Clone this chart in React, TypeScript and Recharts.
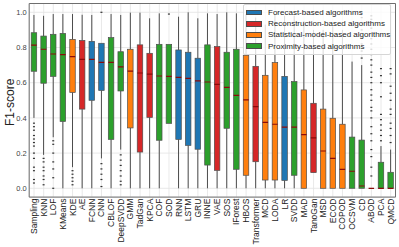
import React from 'react';
import { ComposedChart, Bar, XAxis, YAxis, CartesianGrid, Legend, ReferenceArea } from 'recharts';

const FONT = '"Liberation Sans", Arial, sans-serif';

const categories = [
  'Sampling', 'KNN', 'LOF', 'KMeans', 'KDE', 'AE', 'FCNN', 'CNN', 'CBLOF', 'DeepSVDD',
  'GMM', 'TadGan', 'KPCA', 'COF', 'SOD', 'RNN', 'LSTM', 'GRU', 'INNE', 'VAE',
  'SOS', 'IForest', 'HBOS', 'Transformer', 'MCD', 'LODA', 'LR', 'SVDD', 'MAD', 'TanoGan',
  'MSD', 'ECOD', 'COPOD', 'OCSVM', 'CD', 'ABOD', 'PCA', 'QMCD',
];

// F = forecast, R = reconstruction, S = statistical-model, P = proximity
const groups = [
  'P', 'P', 'P', 'P', 'S', 'R', 'F', 'F', 'P', 'P',
  'S', 'R', 'R', 'P', 'P', 'F', 'F', 'F', 'P', 'R',
  'P', 'P', 'S', 'R', 'S', 'S', 'F', 'P', 'S', 'R',
  'S', 'S', 'S', 'P', 'P', 'P', 'P', 'P',
];

const whiskerLow = [
  0.40, 0.19, 0.29, 0.0, 0.12, 0.0, 0.0, 0.17, 0.0, 0.22,
  0.0, 0.0, 0.0, 0.0, 0.369, 0.0, 0.0, 0.0, 0.0, 0.0,
  0.0, 0.0, 0.0, 0.0, 0.0, 0.0, 0.0, 0.0, 0.0, 0.089,
  0.0, 0.0, 0.0, 0.0, 0.0, 0.0, 0.0, 0.0,
];
const q1 = [
  0.665, 0.597, 0.636, 0.38, 0.545, 0.45, 0.50, 0.556, 0.278, 0.553,
  0.343, 0.206, 0.403, 0.273, 0.369, 0.278, 0.244, 0.222, 0.132, 0.102,
  0.341, 0.108, 0.074, 0.151, 0.047, 0.047, 0.045, 0.074, 0.0, 0.089,
  0.0, 0.0, 0.0, 0.0, 0.0, 0.0, 0.0, 0.0,
];
const median = [
  0.813, 0.79, 0.763, 0.76, 0.748, 0.733, 0.733, 0.716, 0.716, 0.69,
  0.666, 0.655, 0.649, 0.638, 0.636, 0.63, 0.625, 0.61, 0.604, 0.59,
  0.574, 0.528, 0.502, 0.464, 0.375, 0.364, 0.348, 0.348, 0.305, 0.286,
  0.212, 0.17, 0.108, 0.097, 0.013, 0.0, 0.0, 0.0,
];
const q3 = [
  0.884, 0.865, 0.875, 0.88, 0.846, 0.84, 0.835, 0.824, 0.856, 0.776,
  0.79, 0.815, 0.767, 0.818, 0.818, 0.786, 0.773, 0.739, 0.815, 0.805,
  0.773, 0.79, 0.756, 0.693, 0.642, 0.714, 0.636, 0.606, 0.559, 0.483,
  0.45, 0.398, 0.364, 0.291, 0.274, 0.0, 0.148, 0.091,
];
const whiskerHigh = [
  0.985, 0.98, 0.99, 0.99, 0.99, 0.986, 0.985, 0.824, 0.99, 0.985,
  0.998, 0.998, 0.966, 0.994, 0.818, 0.975, 1.0, 0.966, 0.994, 0.99,
  1.0, 0.994, 0.99, 0.97, 0.93, 0.99, 0.98, 0.98, 0.95, 0.9,
  0.9, 0.92, 0.9, 0.72, 0.70, 0.0, 0.24, 0.22,
];
const outliers: number[][] = [
  [0.37, 0.35, 0.33, 0.3, 0.28, 0.26, 0.24, 0.2, 0.17, 0.12, 0.1, 0.05, 0.03],
  [0.17, 0.15, 0.12, 0.1, 0.07, 0.05, 0.02],
  [0.27, 0.25, 0.2, 0.15, 0.11, 0.06, 0.0],
  [],
  [0.1, 0.08, 0.06, 0.04, 0.02],
  [], [],
  [1.0, 0.14, 0.11, 0.08, 0.05, 0.01],
  [],
  [0.19, 0.16, 0.13, 0.1, 0.07, 0.04, 0.02],
  [], [], [], [],
  [0.99],
  [], [], [], [], [], [], [], [], [], [], [], [], [], [], [], [], [], [], [],
  [0.74, 0.78, 0.82, 0.86, 0.9, 0.94, 0.97, 1.0],
  [0.07, 0.12, 0.18, 0.22, 0.27, 0.31, 0.35, 0.4, 0.44, 0.46, 0.5, 0.53, 0.56, 0.6, 0.63,
    0.66, 0.7, 0.73, 0.76, 0.79, 0.82, 0.85, 0.88, 0.91, 0.94, 0.96, 0.98],
  [0.27, 0.3, 0.33, 0.36, 0.39, 0.42, 0.52, 0.6, 0.64, 0.68],
  [0.26, 0.3, 0.34, 0.37, 0.42, 0.45, 0.5, 0.54, 0.58, 0.65, 0.68],
];

const yTicks = [0, 0.2, 0.4, 0.6, 0.8, 1.0];

const groupKeys = ['F', 'R', 'S', 'P'];
const groupLabels = [
  'Forecast-based algorithms',
  'Reconstruction-based algorithms',
  'Statistical-model-based algorithms',
  'Proximity-based algorithms',
];
const groupColors = ['#1f77b4', '#d62728', '#ff7f0e', '#2ca02c'];

const data = categories.map((name, i) => ({ name, group: groups[i], unit: [0, 1] }));

const BoxShape = (props: any) => {
  const { x, y, width, height } = props;
  const i = typeof props.index === 'number' ? props.index : categories.indexOf(props.payload?.name);
  const toY = (v: number) => y + (1 - v) * height;
  const cx = x + width / 2;
  const color = groupColors[groupKeys.indexOf(groups[i])];
  const yq1 = toY(q1[i]);
  const yq3 = toY(q3[i]);
  return (
    <g>
      {whiskerHigh[i] > q3[i] && (
        <line x1={cx} x2={cx} y1={toY(whiskerHigh[i])} y2={yq3} stroke="#4d4d4d" strokeWidth={1} />
      )}
      {whiskerLow[i] < q1[i] && (
        <line x1={cx} x2={cx} y1={yq1} y2={toY(whiskerLow[i])} stroke="#4d4d4d" strokeWidth={1} />
      )}
      <rect x={x} y={yq3} width={width} height={Math.max(yq1 - yq3, 0)} fill={color} stroke="#4d4d4d" strokeWidth={0.7} />
      <line x1={x} x2={x + width} y1={toY(median[i])} y2={toY(median[i])} stroke="#8b0a0a" strokeWidth={1.2} />
      {outliers[i].map((v, k) => (
        <rect key={k} x={cx - 1} y={toY(v) - 0.6} width={2} height={1.2} fill="#333" />
      ))}
    </g>
  );
};

const XTick = (props: any) => {
  const { x, y, payload } = props;
  return (
    <text
      x={x}
      y={y}
      transform={`rotate(-90, ${x}, ${y})`}
      textAnchor="end"
      dy="0.35em"
      fontSize={8.5}
      fill="#222"
      fontFamily={FONT}
    >
      {payload.value}
    </text>
  );
};

const YLabel = (p: any) => {
  const vb = p.viewBox || { x: 0, y: 3.5, width: 29, height: 194 };
  const cx = vb.x + 10.5;
  const cy = vb.y + vb.height / 2 + 2;
  return (
    <text x={cx} y={cy} transform={`rotate(-90, ${cx}, ${cy})`} textAnchor="middle" dominantBaseline="central" fontSize={12} fill="#222" fontFamily={FONT}>
      F1-score
    </text>
  );
};

const LegendContent = () => (
  <div
    style={{
      background: 'rgba(255,255,255,0.8)',
      border: '1px solid #d6d6d6',
      borderRadius: 2,
      padding: '2px 3px 2px 2px',
      fontFamily: FONT,
      fontSize: 8,
      color: '#222',
      boxSizing: 'border-box',
    }}
  >
    {groupLabels.map((label, k) => (
      <div key={k} style={{ display: 'flex', alignItems: 'center', height: 11.2, lineHeight: '11px' }}>
        <span
          style={{
            display: 'inline-block',
            width: 16,
            height: 5.8,
            background: groupColors[k],
            border: '0.7px solid #4d4d4d',
            boxSizing: 'border-box',
            marginRight: 6,
            flex: 'none',
          }}
        />
        <span style={{ whiteSpace: 'nowrap' }}>{label}</span>
      </div>
    ))}
  </div>
);

export default function App() {
  return (
    <div style={{ position: 'absolute', left: 0, top: 0, width: 399, height: 247, background: '#fff' }}>
      <ComposedChart
        width={399}
        height={247}
        data={data}
        margin={{ top: 3.5, right: 3.5, left: 0, bottom: 0 }}
        style={{ fontFamily: FONT }}
      >
        <CartesianGrid stroke="#e3e3e3" strokeWidth={0.8} />
        <XAxis
          dataKey="name"
          type="category"
          interval={0}
          height={49.9}
          tickLine={false}
          axisLine={false}
          tickSize={0}
          tickMargin={1.5}
          tick={<XTick />}
        />
        <YAxis
          type="number"
          domain={[-0.05, 1.05]}
          ticks={yTicks}
          width={29.2}
          tickLine={false}
          axisLine={false}
          tickSize={0}
          tickMargin={2.5}
          tickFormatter={(v: number) => v.toFixed(1)}
          tick={{ fontSize: 7.5, fill: '#444', fontFamily: FONT }}
          label={{ content: YLabel }}
          allowDataOverflow
        />
        <ReferenceArea y1={-0.05} y2={1.05} fill="none" stroke="#6e6e6e" strokeWidth={1} ifOverflow="visible" />
        <Bar dataKey="unit" barSize={5.5} shape={BoxShape} isAnimationActive={false} />
        <Legend
          layout="horizontal"
          verticalAlign="middle"
          align="center"
          content={LegendContent}
          wrapperStyle={{ left: 243, top: 4, width: 148 }}
        />
      </ComposedChart>
    </div>
  );
}
